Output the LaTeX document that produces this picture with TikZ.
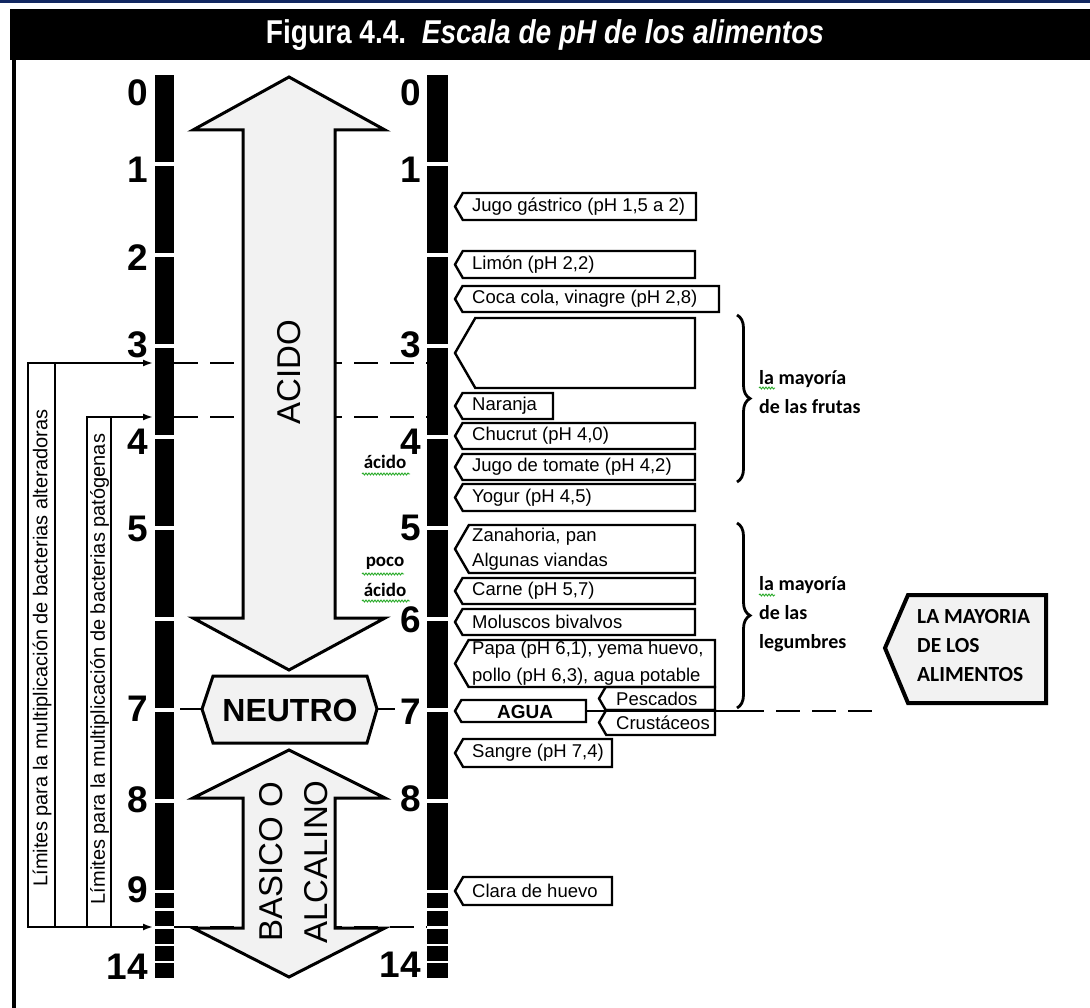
\documentclass[tikz,border=0pt]{standalone}
\usepackage{fontspec}
\setmainfont{Liberation Sans}
\newfontfamily\calibfont{Carlito}
\newfontfamily\narrowfont[FakeStretch=0.85]{Liberation Sans}
\usetikzlibrary{arrows.meta,decorations.pathreplacing,decorations.pathmorphing}

\definecolor{flechagris}{RGB}{242,242,242}
\definecolor{azultop}{RGB}{18,40,98}
\definecolor{verdesub}{RGB}{40,170,40}

\tikzset{
  phnum/.style={font=\fontsize{37}{37}\selectfont\bfseries, inner sep=0pt, anchor=east},
  flecha/.style={draw=black, line width=3pt, fill=flechagris, line join=miter},
  guion/.style={line width=2.5pt, dash pattern=on 24pt off 12pt},
  tagbox/.style={draw=black, line width=2.4pt, line join=miter},
  tagtext/.style={font=\fontsize{18.5}{25}\selectfont, inner sep=0pt, anchor=west, align=left},
  limbox/.style={draw=black, line width=2.4pt, inner sep=0pt, outer sep=0pt, anchor=north west},
  limtext/.style={font=\fontsize{20}{20}\selectfont, inner sep=0pt, rotate=90},
  limflecha/.style={line width=1.8pt, -{Latex[length=10pt,width=7pt]}},
  nota/.style={font=\calibfont\bfseries\fontsize{20}{29}\selectfont, inner sep=0pt, anchor=west, align=left},
  chica/.style={font=\calibfont\bfseries\fontsize{19}{19}\selectfont, inner sep=0pt},
  subraya/.style={draw=verdesub, line width=0.9pt, decorate, decoration={snake, segment length=3pt, amplitude=1pt}},
  llave/.style={line width=2.8pt, decorate, decoration={brace, amplitude=13pt}},
}

% food tag: [tip x] name, top y, bottom y, right x, text
\newcommand{\foodtag}[6][455]{%
  \pgfmathsetmacro{\tgmid}{(#3+#4)/2}%
  \pgfmathsetmacro{\tgin}{#1+0.58*(#4-#3)/2}%
  \begin{scope}
    \clip (#1,\tgmid) -- (\tgin,#3) -- (#5,#3) -- (#5,#4) -- (\tgin,#4) -- cycle;
    \node[tagtext] (#2) at (#1+17,\tgmid) {#6};
  \end{scope}
  \draw[tagbox] (#1,\tgmid) -- (\tgin,#3) -- (#5,#3) -- (#5,#4) -- (\tgin,#4) -- cycle;
}

\begin{document}
\begin{tikzpicture}[x=1pt,y=-1pt]
    \useasboundingbox (0,0) rectangle (1090,1008);

    % Draw the frame and the title bar
    \fill[azultop] (0,0) rectangle (1090,3.5);
    \fill[black] (10,9) rectangle (1090,60);
    \draw[line width=4pt] (14,60) -- (14,1008);
    \node[font=\narrowfont\bfseries\fontsize{33}{33}\selectfont, text=white] (titulo) at (545,35)
        {Figura 4.4.\ \ \textit{Escala de pH de los alimentos}};

    % Draw the two pH scales
    \foreach \xa/\xb in {155/174,427/448} {
        \foreach \k in {0,...,8}
            \fill (\xa,{73+91*\k+2}) rectangle (\xb,{73+91*(\k+1)-2});
        \foreach \t in {893,911,929,946,963}
            \fill (\xa,\t) rectangle (\xb,\t+15);
    }
    \foreach \n/\y in {0/93,1/170,2/258,3/345,4/442,5/529,7/709,8/800,9/890,14/967}
        \node[phnum] (izq\n) at (148,\y) {\n};
    \foreach \n/\y in {0/93,1/170,3/345,4/442,5/528,6/620,7/712,8/799,14/965}
        \node[phnum] (der\n) at (421,\y) {\n};

    % Named points on the scales
    \coordinate (izqa) at (174,363);  \coordinate (dera) at (427,363);
    \coordinate (izqb) at (174,417);  \coordinate (derb) at (427,417);
    \coordinate (izqc) at (174,927);  \coordinate (derc) at (427,927);
    \coordinate (izqsiete) at (180,709);  \coordinate (dersiete) at (395,709);

    % Draw the dashed limits
    \draw[guion] (izqa) -- (dera);
    \draw[guion] (izqb) -- (derb);
    \draw[guion] (izqc) -- (derc);

    % Draw the acid arrow
    \filldraw[flecha] (289,77) -- (385,130) -- (335,130) -- (335,618) -- (385,618) -- (289,670)
        -- (193,618) -- (243,618) -- (243,130) -- (193,130) -- cycle;
    \node[font=\fontsize{33}{33}\selectfont, rotate=90] (acido) at (289,372) {ACIDO};

    % Draw the neutral hexagon
    \filldraw[flecha] (202,709) -- (213,676) -- (367,676) -- (377,709) -- (367,743) -- (213,743) -- cycle;
    \node[font=\bfseries\fontsize{32}{32}\selectfont] (neutro) at (290,710) {NEUTRO};
    \coordinate (neutroizq) at (202,709);  \coordinate (neutroder) at (377,709);
    \draw[line width=2.2pt] (izqsiete) -- (neutroizq);
    \draw[line width=2.2pt] (neutroder) -- (dersiete);

    % Draw the basic arrow
    \filldraw[flecha] (289,750) -- (385,798) -- (335,798) -- (335,928) -- (385,928) -- (289,977)
        -- (193,928) -- (243,928) -- (243,798) -- (193,798) -- cycle;
    \node[font=\fontsize{33}{45}\selectfont, rotate=90, align=center] (basico) at (294,862) {BASICO O\\ALCALINO};

    % Draw the limit boxes on the left
    \node[limbox, minimum width=27pt, minimum height=564pt] (alterbox) at (28,363) {};
    \node[limtext] (altertexto) at (42,648) {Límites para la multiplicación de bacterias alteradoras};
    \node[limbox, minimum width=24pt, minimum height=510pt] (patobox) at (87,417) {};
    \node[limtext] (patotexto) at (99.5,669) {Límites para la multiplicación de bacterias patógenas};
    \coordinate (puntaa) at (153,363);
    \coordinate (puntab) at (153,417);
    \coordinate (puntac) at (153,927);
    \draw[limflecha] (alterbox.north west) -- (puntaa);
    \draw[limflecha] (patobox.north west) -- (puntab);
    \draw[limflecha] (alterbox.south west) -- (puntac);

    % Words beside the scale
    \node[chica] (acidoa) at (385,462) {ácido};
    \node[chica] (poco) at (385,563) {poco};
    \node[chica] (acidob) at (385,590) {ácido};
    \draw[subraya] (362,474) -- (410,474);
    \draw[subraya] (362,574) -- (404,574);
    \draw[subraya] (362,601) -- (410,601);

    % Draw the food tags
    \foodtag{jugo}{193}{220}{696}{Jugo gástrico (pH 1,5 a 2)}
    \foodtag{limon}{251}{278}{695}{Limón (pH 2,2)}
    \foodtag{coca}{286}{312}{719}{Coca cola, vinagre (pH 2,8)}
    \foodtag{vacio}{318}{388}{695}{}
    \foodtag{naranja}{393}{419}{553}{Naranja}
    \foodtag{chucrut}{423}{449}{695}{Chucrut (pH 4,0)}
    \foodtag{tomate}{454}{480}{695}{Jugo de tomate (pH 4,2)}
    \foodtag{yogur}{484}{511}{695}{Yogur (pH 4,5)}
    \foodtag{zanahoria}{525}{573}{695}{Zanahoria, pan\\Algunas viandas}
    \foodtag{carne}{578}{604}{695}{Carne (pH 5,7)}
    \foodtag{moluscos}{609}{635}{695}{Moluscos bivalvos}
    \foodtag{papa}{640}{687}{715}{Papa (pH 6,1), yema huevo,\\[2pt]pollo (pH 6,3), agua potable}
    \foodtag{agua}{700}{722}{586}{}
    \node[font=\bfseries\fontsize{19}{19}\selectfont, inner sep=0pt] (aguatexto) at (525,712) {AGUA};
    \foodtag[599]{pescados}{687}{710}{715}{Pescados}
    \foodtag[599]{crustaceos}{710}{735}{715}{Crustáceos}
    \foodtag{sangre}{739}{767}{612}{Sangre (pH 7,4)}
    \foodtag{clara}{877}{905}{612}{Clara de huevo}

    % Line of pH 7 on the right
    \coordinate (aguader) at (586,711);
    \coordinate (llavepie) at (740,711);
    \coordinate (finguion) at (872,711);
    \draw[line width=2.2pt] (aguader) -- (llavepie);
    \draw[guion] (llavepie) -- (finguion);

    % Draw the braces and their notes
    \draw[llave] (737,315) -- (737,482);
    \draw[llave] (737,523) -- (737,708);
    \node[nota] (frutas) at (759,392) {la mayoría\\de las frutas};
    \node[nota] (legumbres) at (759,614) {la mayoría\\de las\\legumbres};
    \draw[subraya] (759,388) -- (775,388);
    \draw[subraya] (759,595) -- (775,595);

    % Draw the tag of most foods
    \filldraw[line width=4pt, fill=flechagris, line join=miter] (885,648) -- (908,595) -- (1046,595)
        -- (1046,703) -- (908,703) -- cycle;
    \node[nota, font=\calibfont\bfseries\fontsize{21.5}{29}\selectfont] (mayoria) at (917,646) {LA MAYORIA\\DE LOS\\ALIMENTOS};
\end{tikzpicture}
\end{document}
